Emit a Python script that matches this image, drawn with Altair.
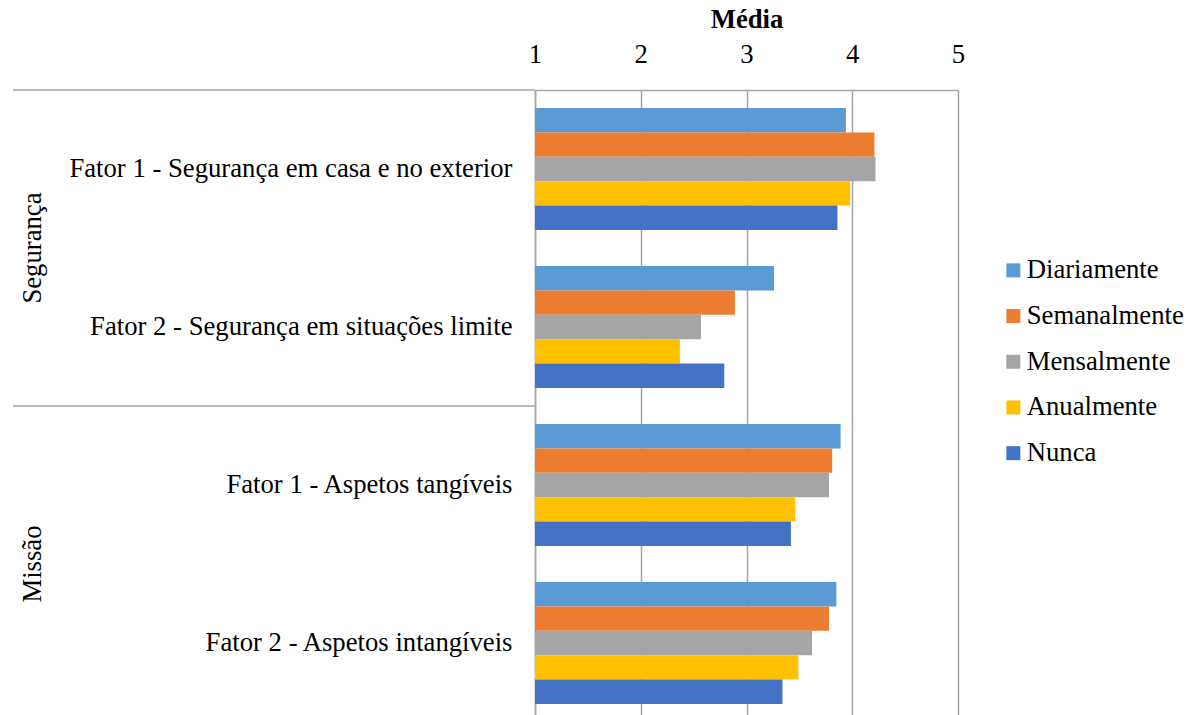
import altair as alt
import pandas as pd

# Factors shown on the category axis, top to bottom
fatores = [
    "Fator 1 - Segurança em casa e no exterior",
    "Fator 2 - Segurança em situações limite",
    "Fator 1 - Aspetos tangíveis",
    "Fator 2 - Aspetos intangíveis",
]
frequencias = ["Diariamente", "Semanalmente", "Mensalmente", "Anualmente", "Nunca"]
cores = ["#5B9BD5", "#ED7D31", "#A5A5A5", "#FFC000", "#4472C4"]

# Mean score per factor, one list per frequency
diariamente = [3.94, 3.26, 3.89, 3.85]
semanalmente = [4.21, 2.89, 3.81, 3.78]
mensalmente = [4.22, 2.57, 3.78, 3.62]
anualmente = [3.98, 2.37, 3.46, 3.49]
nunca = [3.86, 2.79, 3.42, 3.34]

# Outer category groups (each spans two factors)
grupos = ["Segurança", "Missão"]
grupo_centro = [1, 3]
grupo_limites = [0, 2]

series = dict(zip(frequencias, [diariamente, semanalmente, mensalmente, anualmente, nunca]))
rows = []
for freq, vals in series.items():
    for f, v in zip(fatores, vals):
        rows.append({"fator": f, "frequencia": freq, "media": v})
df = pd.DataFrame(rows)

FONT = "Times New Roman, Liberation Serif, serif"
FS = 26.7
W, H = 423, 625
BAND_RANGE = [0, 632]

bars = alt.Chart(df).mark_bar().encode(
    x=alt.X(
        "media:Q",
        scale=alt.Scale(domain=[1, 5], nice=False, zero=False),
        axis=alt.Axis(
            orient="top", values=[1, 2, 3, 4, 5], title="Média", format="d",
            grid=True, gridColor="#A6A6A6", gridWidth=1.5,
            domainColor="#A6A6A6", domainWidth=1.5, ticks=False,
            labelFlush=False, labelBound=False,
            labelFont=FONT, labelFontSize=FS, labelColor="black", labelPadding=22,
            titleFont=FONT, titleFontSize=FS, titleFontWeight="bold",
            titleColor="black", titlePadding=8,
        ),
    ),
    x2=alt.datum(1),
    y=alt.Y(
        "fator:N", sort=fatores,
        scale=alt.Scale(range=BAND_RANGE, paddingInner=0.228, paddingOuter=0.114),
        axis=alt.Axis(
            title=None, ticks=False, domainColor="#A6A6A6", domainWidth=1.5,
            labelFont=FONT, labelFontSize=FS, labelColor="black",
            labelPadding=23, labelLimit=0,
        ),
    ),
    yOffset=alt.YOffset("frequencia:N", sort=frequencias,
                        scale=alt.Scale(paddingInner=0, paddingOuter=0)),
    color=alt.Color(
        "frequencia:N", sort=frequencias,
        scale=alt.Scale(domain=frequencias, range=cores),
        legend=alt.Legend(
            title=None, orient="none", legendX=465, legendY=167,
            symbolType="square", symbolSize=196, symbolStrokeWidth=0,
            labelFont=FONT, labelFontSize=FS, labelColor="black",
            labelOffset=0, rowPadding=17.7, padding=0,
        ),
    ),
)

grp_df = pd.DataFrame({"grupo": grupos, "pos": grupo_centro})
lim_df = pd.DataFrame({"pos": grupo_limites})
yq = alt.Scale(domain=[0, 4], range=BAND_RANGE)

grp_text = alt.Chart(grp_df).mark_text(
    angle=270, font=FONT, fontSize=FS, color="black", baseline="middle", align="center"
).encode(
    y=alt.Y("pos:Q", scale=yq, axis=None),
    x=alt.value(-502),
    text="grupo:N",
)

grp_lines = alt.Chart(lim_df).mark_rule(color="#A6A6A6", strokeWidth=1.5).encode(
    y=alt.Y("pos:Q", scale=yq, axis=None),
    x=alt.value(-522),
    x2=alt.value(0),
)

chart = alt.layer(bars, grp_lines, grp_text).resolve_scale(y="independent").properties(
    width=W, height=H,
    autosize=alt.AutoSizeParams(type="none"),
    padding={"left": 535, "top": 90, "right": 1191 - 535 - W, "bottom": 0},
).configure_view(stroke=None)

chart.save("out.html", embed_options={"renderer": "svg", "actions": False})
